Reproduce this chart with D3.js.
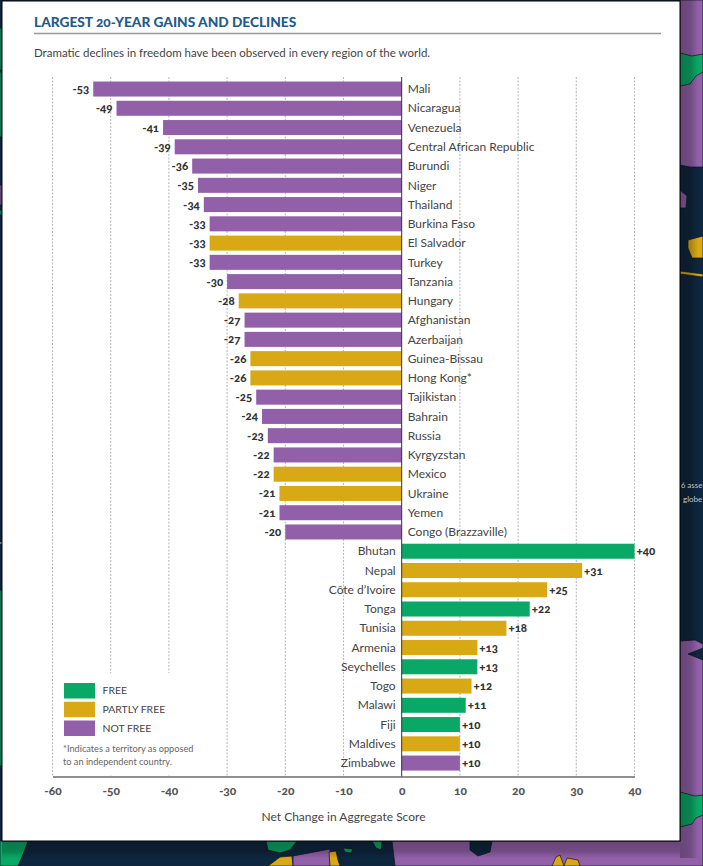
<!DOCTYPE html>
<html>
<head>
<meta charset="utf-8">
<script src="https://cdn.jsdelivr.net/npm/d3@7/dist/d3.min.js"></script>
<style>
  html, body { margin: 0; padding: 0; background: #0d2238; }
  svg { display: block; font-family: Lato, "Open Sans", sans-serif; font-feature-settings: "onum" 1; font-variant-numeric: oldstyle-nums; }
</style>
</head>
<body>
<svg id="chart" width="703" height="866"></svg>
<script>
// largest 20-year gains and declines, one row per country
const countries = ['Mali', 'Nicaragua', 'Venezuela', 'Central African Republic', 'Burundi', 'Niger',
    'Thailand', 'Burkina Faso', 'El Salvador', 'Turkey', 'Tanzania', 'Hungary', 'Afghanistan',
    'Azerbaijan', 'Guinea-Bissau', 'Hong Kong*', 'Tajikistan', 'Bahrain', 'Russia', 'Kyrgyzstan',
    'Mexico', 'Ukraine', 'Yemen', 'Congo (Brazzaville)', 'Bhutan', 'Nepal', 'Côte d’Ivoire', 'Tonga',
    'Tunisia', 'Armenia', 'Seychelles', 'Togo', 'Malawi', 'Fiji', 'Maldives', 'Zimbabwe'];
const changes = [-53, -49, -41, -39, -36, -35, -34, -33, -33, -33, -30, -28, -27, -27, -26, -26, -25,
    -24, -23, -22, -22, -21, -21, -20, 40, 31, 25, 22, 18, 13, 13, 12, 11, 10, 10, 10];
const statuses = ['NF', 'NF', 'NF', 'NF', 'NF', 'NF', 'NF', 'NF', 'PF', 'NF', 'NF', 'PF', 'NF', 'NF',
    'PF', 'PF', 'NF', 'NF', 'NF', 'NF', 'PF', 'PF', 'NF', 'NF', 'F', 'PF', 'PF', 'F', 'PF', 'PF', 'F',
    'PF', 'F', 'F', 'PF', 'NF'];
const xTicks = [-60, -50, -40, -30, -20, -10, 0, 10, 20, 30, 40];
const legendKeys = ['F', 'PF', 'NF'];
const legendLabels = ['FREE', 'PARTLY FREE', 'NOT FREE'];

const COLOR = { F: '#0aa866', PF: '#d9a815', NF: '#9160a8' };
const NAVY = '#0e263e';
const rows = countries.map((name, i) => ({ name, value: changes[i], status: statuses[i] }));

const svg = d3.select('#chart');

// ── Backdrop: the map showing around the panel ───────────────────────────
const bg = svg.append('g');
bg.append('rect').attr('width', 703).attr('height', 866).attr('fill', NAVY);
const backdrop = [
    [COLOR.NF, 'M680 0H703V167H690L680 165Z'],
    [COLOR.F, 'M680 53L692 56L703 54V72L696 76L690 84L680 86Z'],
    [COLOR.NF, 'M680 190L687 196L686 208L680 208Z'],
    [COLOR.PF, 'M688 240L703 236V258L692 258L688 248Z'],
    [COLOR.PF, 'M680 271L703 274V277L680 274Z'],
    [COLOR.NF, 'M680 641L695 640L703 644V866H395L392 841H680Z'],
    [NAVY, 'M688 654L703 648V660Z'],
    [COLOR.F, 'M680 792L695 796L703 795V815L696 818L692 824L680 827Z'],
    [NAVY, 'M470 841H492L490 852L478 856L470 850Z'],
    [COLOR.F, 'M0 841H28L24 852L18 866H0Z'],
    [COLOR.F, 'M266 841H297L290 850L280 853L268 850Z'],
    [COLOR.PF, 'M280 857L292 856L293 866H268Z'],
    [COLOR.NF, 'M293 856L330 849V866H293Z'],
    [COLOR.PF, 'M329 852L336 851L338 860L340 866H330Z'],
    [COLOR.F, 'M343 848L353 849L351 853L345 852Z'],
    [COLOR.F, 'M372 841H382L381 850L376 848Z'],
    [COLOR.F, 'M0 28H2V70H0ZM0 72H2V137H0ZM0 210H2V215H0ZM0 590H2V766H0Z'],
    [COLOR.NF, 'M0 185H2V205H0Z'],
    ['#ffffff', 'M0 542H2V544H0Z'],
    [COLOR.PF, 'M552 866L556 857L560 855L564 866ZM564 866L567 858L578 860L580 866Z']
];
bg.selectAll('path').data(backdrop).join('path')
    .attr('d', d => d[1]).attr('fill', d => d[0])
    .attr('stroke', '#10151c').attr('stroke-width', 0.7);

// soft shadow the panel throws on the map
const defs = svg.append('defs');
const shadowR = defs.append('linearGradient').attr('id', 'shadow-r');
shadowR.append('stop').attr('offset', 0).attr('stop-color', '#000').attr('stop-opacity', 0.28);
shadowR.append('stop').attr('offset', 0.6).attr('stop-color', '#000').attr('stop-opacity', 0.22);
shadowR.append('stop').attr('offset', 1).attr('stop-color', '#000').attr('stop-opacity', 0);
const shadowB = defs.append('linearGradient').attr('id', 'shadow-b')
    .attr('x1', 0).attr('x2', 0).attr('y1', 0).attr('y2', 1);
shadowB.append('stop').attr('offset', 0).attr('stop-color', '#000').attr('stop-opacity', 0.28);
shadowB.append('stop').attr('offset', 0.6).attr('stop-color', '#000').attr('stop-opacity', 0.22);
shadowB.append('stop').attr('offset', 1).attr('stop-color', '#000').attr('stop-opacity', 0);
bg.append('rect').attr('x', 680).attr('y', 0).attr('width', 18).attr('height', 858).attr('fill', 'url(#shadow-r)');
bg.append('rect').attr('x', 2).attr('y', 841).attr('width', 678).attr('height', 17).attr('fill', 'url(#shadow-b)');
bg.append('text').attr('x', 681).attr('y', 488).attr('fill', '#b9c4cf').attr('font-size', 8).text('6 asse');
bg.append('text').attr('x', 683).attr('y', 502).attr('fill', '#b9c4cf').attr('font-size', 8).text('globe');

// ── Panel ────────────────────────────────────────────────────────────────
svg.append('rect').attr('x', 2).attr('y', 1).attr('width', 678).attr('height', 840)
    .attr('fill', '#fff').attr('stroke', '#000').attr('stroke-width', 1);

svg.append('text').attr('x', 34).attr('y', 27)
    .attr('fill', '#1f5c8b').attr('font-size', 13.7).attr('font-weight', 900)
    .text('LARGEST 20-YEAR GAINS AND DECLINES');
svg.append('line').attr('x1', 34).attr('x2', 661).attr('y1', 33.5).attr('y2', 33.5)
    .attr('stroke', '#999').attr('stroke-width', 1.6);
svg.append('text').attr('x', 34).attr('y', 57)
    .attr('fill', '#444').attr('font-size', 11.5)
    .text('Dramatic declines in freedom have been observed in every region of the world.');

// ── Scales ───────────────────────────────────────────────────────────────
const x = d3.scaleLinear().domain([-60, 40]).range([52.5, 634.5]);
const y = d3.scaleBand().domain(countries).range([79.4, 772.7]).paddingInner(0.22).paddingOuter(0.11);
const AXIS_Y = 776.5, GRID_TOP = 77;

// gridlines
svg.append('g').selectAll('line').data(xTicks.filter(t => t !== 0)).join('line')
    .attr('x1', d => x(d)).attr('x2', d => x(d))
    .attr('y1', GRID_TOP).attr('y2', AXIS_Y)
    .attr('stroke', '#bbb').attr('stroke-width', 1.1).attr('stroke-dasharray', '2 1.5');

// legend sits in a white box that cuts the -50 and -40 gridlines
svg.append('rect').attr('x', 56).attr('y', 673).attr('width', 150).attr('height', 102).attr('fill', '#fff');

// ── Bars ─────────────────────────────────────────────────────────────────
svg.append('g').selectAll('rect').data(rows).join('rect')
    .attr('x', d => Math.min(x(0), x(d.value)))
    .attr('y', d => y(d.name))
    .attr('width', d => Math.abs(x(d.value) - x(0)))
    .attr('height', y.bandwidth())
    .attr('fill', d => COLOR[d.status]);

svg.append('line').attr('x1', x(0)).attr('x2', x(0)).attr('y1', GRID_TOP).attr('y2', AXIS_Y)
    .attr('stroke', '#333').attr('stroke-width', 1);

const midY = d => y(d) + y.bandwidth() / 2;

// value labels
svg.append('g').selectAll('text').data(rows).join('text')
    .attr('x', d => x(d.value) + (d.value < 0 ? -4 : 2))
    .attr('y', d => midY(d.name))
    .attr('dy', '0.35em')
    .attr('text-anchor', d => d.value < 0 ? 'end' : 'start')
    .attr('fill', '#333').attr('font-size', 11.5).attr('font-weight', 900)
    .text(d => (d.value > 0 ? '+' : '') + d.value);

// country names on the opposite side of zero
svg.append('g').selectAll('text').data(rows).join('text')
    .attr('x', d => x(0) + (d.value < 0 ? 6 : -6))
    .attr('y', d => midY(d.name))
    .attr('dy', '0.35em')
    .attr('text-anchor', d => d.value < 0 ? 'start' : 'end')
    .attr('fill', '#444').attr('font-size', 12)
    .text(d => d.name);

// ── X axis ───────────────────────────────────────────────────────────────
const axis = svg.append('g').attr('transform', `translate(0,${AXIS_Y})`)
    .call(d3.axisBottom(x).tickValues(xTicks).tickSize(0).tickPadding(10).tickFormat(d => d));
axis.select('.domain').attr('stroke', '#222').attr('stroke-width', 1.2);
axis.selectAll('text').attr('fill', '#555').attr('font-size', 12).attr('font-weight', 900)
    .attr('font-family', 'Lato, "Open Sans", sans-serif');

svg.append('text').attr('x', 343.5).attr('y', 821)
    .attr('text-anchor', 'middle').attr('fill', '#444').attr('font-size', 12)
    .text('Net Change in Aggregate Score');

// ── Legend ───────────────────────────────────────────────────────────────
const legendY = d3.scalePoint().domain(legendKeys).range([683, 720.5]);
const leg = svg.append('g');
leg.selectAll('rect').data(legendKeys).join('rect')
    .attr('x', 64).attr('y', d => legendY(d)).attr('width', 31).attr('height', 15.5)
    .attr('fill', d => COLOR[d]);
leg.selectAll('text').data(legendKeys).join('text')
    .attr('x', 102.5).attr('y', d => legendY(d) + 7.5).attr('dy', '0.35em')
    .attr('fill', '#444').attr('font-size', 10.4)
    .text((d, i) => legendLabels[i]);

svg.append('text').attr('x', 63).attr('y', 752).attr('fill', '#666').attr('font-size', 9.2)
    .text('*Indicates a territory as opposed');
svg.append('text').attr('x', 63).attr('y', 765).attr('fill', '#666').attr('font-size', 9.2)
    .text('to an independent country.');
</script>
</body>
</html>
